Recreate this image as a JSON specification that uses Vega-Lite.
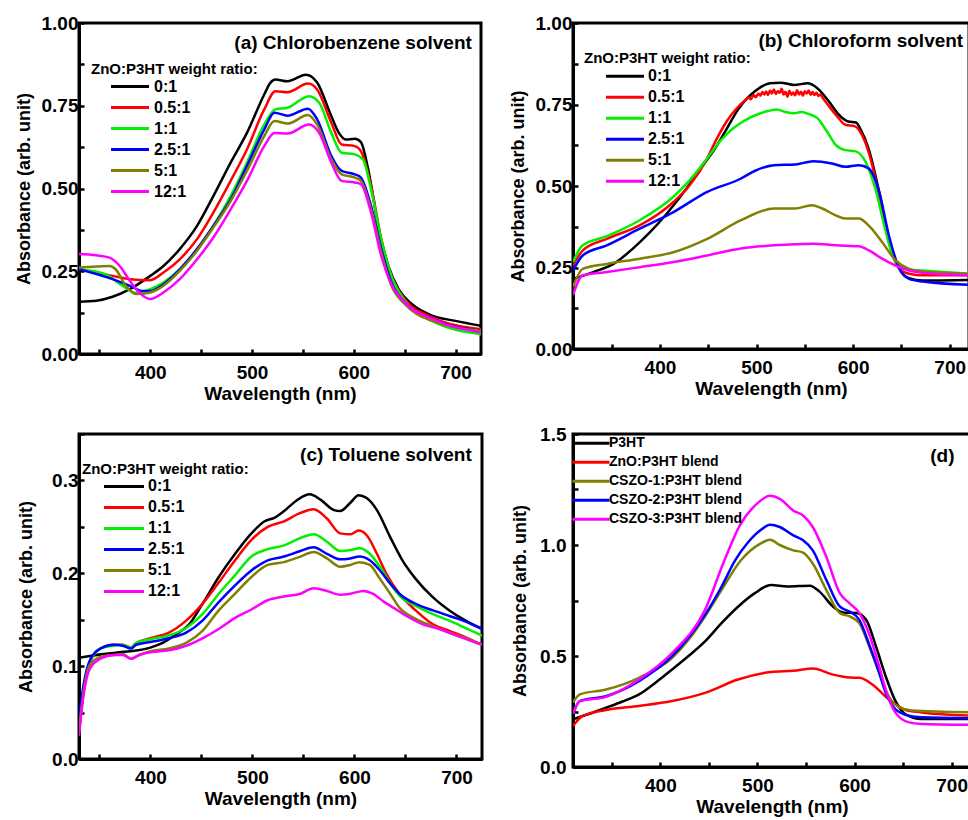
{
  "$schema": "https://vega.github.io/schema/vega-lite/v6.json",
  "padding": {"left": 13, "top": 12, "right": 0, "bottom": 0},
  "config": {
    "font": "Liberation Sans",
    "view": {"stroke": "black", "strokeWidth": 3},
    "axis": {
      "grid": false, "domainColor": "black", "domainWidth": 3,
      "tickColor": "black", "tickWidth": 2.5, "tickSize": -5,
      "labelFontSize": 19, "labelFontWeight": "bold", "labelColor": "black",
      "titleFontSize": 18, "titleFontWeight": "bold", "titleColor": "black",
      "labelOverlap": false, "labelFlush": false, "labelBound": false
    },
    "axisX": {"labelPadding": 14, "titlePadding": 2, "titleFontSize": 19},
    "axisY": {"labelPadding": 6, "titlePadding": 8},
    "legend": {
      "orient": "none", "padding": 0, "rowPadding": 0,
      "symbolType": "stroke", "symbolStrokeWidth": 3,
      "titleFontSize": 15, "titleFontWeight": "bold", "titleColor": "black",
      "labelFontSize": 16, "labelFontWeight": "bold", "labelColor": "black"
    },
    "text": {"color": "black", "fontWeight": "bold", "fontSize": 19}
  },
  "datasets": {
    "chlorobenzene": [
      {"ratio": "0:1", "nm": 330, "abs": 0.158}, {"ratio": "0:1", "nm": 347, "abs": 0.161}, {"ratio": "0:1", "nm": 363, "abs": 0.173}, {"ratio": "0:1", "nm": 380, "abs": 0.196}, {"ratio": "0:1", "nm": 400, "abs": 0.236}, {"ratio": "0:1", "nm": 413, "abs": 0.266}, {"ratio": "0:1", "nm": 429, "abs": 0.317}, {"ratio": "0:1", "nm": 446, "abs": 0.387}, {"ratio": "0:1", "nm": 462, "abs": 0.477}, {"ratio": "0:1", "nm": 479, "abs": 0.578}, {"ratio": "0:1", "nm": 495, "abs": 0.668}, {"ratio": "0:1", "nm": 512, "abs": 0.784}, {"ratio": "0:1", "nm": 518, "abs": 0.819}, {"ratio": "0:1", "nm": 523, "abs": 0.829}, {"ratio": "0:1", "nm": 535, "abs": 0.824}, {"ratio": "0:1", "nm": 553, "abs": 0.844}, {"ratio": "0:1", "nm": 564, "abs": 0.82}, {"ratio": "0:1", "nm": 578, "abs": 0.718}, {"ratio": "0:1", "nm": 586, "abs": 0.665}, {"ratio": "0:1", "nm": 592, "abs": 0.648}, {"ratio": "0:1", "nm": 601, "abs": 0.65}, {"ratio": "0:1", "nm": 607, "abs": 0.64}, {"ratio": "0:1", "nm": 614, "abs": 0.56}, {"ratio": "0:1", "nm": 624, "abs": 0.387}, {"ratio": "0:1", "nm": 634, "abs": 0.266}, {"ratio": "0:1", "nm": 644, "abs": 0.196}, {"ratio": "0:1", "nm": 657, "abs": 0.151}, {"ratio": "0:1", "nm": 677, "abs": 0.116}, {"ratio": "0:1", "nm": 700, "abs": 0.1}, {"ratio": "0:1", "nm": 725, "abs": 0.085},

      {"ratio": "0.5:1", "nm": 330, "abs": 0.256}, {"ratio": "0.5:1", "nm": 363, "abs": 0.236}, {"ratio": "0.5:1", "nm": 380, "abs": 0.226}, {"ratio": "0.5:1", "nm": 400, "abs": 0.223}, {"ratio": "0.5:1", "nm": 413, "abs": 0.246}, {"ratio": "0.5:1", "nm": 429, "abs": 0.286}, {"ratio": "0.5:1", "nm": 446, "abs": 0.347}, {"ratio": "0.5:1", "nm": 462, "abs": 0.427}, {"ratio": "0.5:1", "nm": 479, "abs": 0.523}, {"ratio": "0.5:1", "nm": 495, "abs": 0.618}, {"ratio": "0.5:1", "nm": 512, "abs": 0.739}, {"ratio": "0.5:1", "nm": 523, "abs": 0.794}, {"ratio": "0.5:1", "nm": 535, "abs": 0.791}, {"ratio": "0.5:1", "nm": 555, "abs": 0.817}, {"ratio": "0.5:1", "nm": 564, "abs": 0.799}, {"ratio": "0.5:1", "nm": 578, "abs": 0.698}, {"ratio": "0.5:1", "nm": 588, "abs": 0.633}, {"ratio": "0.5:1", "nm": 601, "abs": 0.628}, {"ratio": "0.5:1", "nm": 607, "abs": 0.613}, {"ratio": "0.5:1", "nm": 617, "abs": 0.508}, {"ratio": "0.5:1", "nm": 627, "abs": 0.347}, {"ratio": "0.5:1", "nm": 637, "abs": 0.236}, {"ratio": "0.5:1", "nm": 650, "abs": 0.166}, {"ratio": "0.5:1", "nm": 677, "abs": 0.111}, {"ratio": "0.5:1", "nm": 725, "abs": 0.075},

      {"ratio": "1:1", "nm": 330, "abs": 0.256}, {"ratio": "1:1", "nm": 356, "abs": 0.241}, {"ratio": "1:1", "nm": 373, "abs": 0.206}, {"ratio": "1:1", "nm": 386, "abs": 0.184}, {"ratio": "1:1", "nm": 400, "abs": 0.196}, {"ratio": "1:1", "nm": 413, "abs": 0.216}, {"ratio": "1:1", "nm": 429, "abs": 0.256}, {"ratio": "1:1", "nm": 446, "abs": 0.317}, {"ratio": "1:1", "nm": 462, "abs": 0.387}, {"ratio": "1:1", "nm": 479, "abs": 0.477}, {"ratio": "1:1", "nm": 495, "abs": 0.578}, {"ratio": "1:1", "nm": 512, "abs": 0.693}, {"ratio": "1:1", "nm": 523, "abs": 0.739}, {"ratio": "1:1", "nm": 535, "abs": 0.744}, {"ratio": "1:1", "nm": 556, "abs": 0.779}, {"ratio": "1:1", "nm": 566, "abs": 0.759}, {"ratio": "1:1", "nm": 578, "abs": 0.668}, {"ratio": "1:1", "nm": 588, "abs": 0.608}, {"ratio": "1:1", "nm": 601, "abs": 0.603}, {"ratio": "1:1", "nm": 609, "abs": 0.588}, {"ratio": "1:1", "nm": 617, "abs": 0.497}, {"ratio": "1:1", "nm": 627, "abs": 0.347}, {"ratio": "1:1", "nm": 637, "abs": 0.236}, {"ratio": "1:1", "nm": 650, "abs": 0.161}, {"ratio": "1:1", "nm": 677, "abs": 0.1}, {"ratio": "1:1", "nm": 725, "abs": 0.06},

      {"ratio": "2.5:1", "nm": 330, "abs": 0.256}, {"ratio": "2.5:1", "nm": 363, "abs": 0.226}, {"ratio": "2.5:1", "nm": 380, "abs": 0.206}, {"ratio": "2.5:1", "nm": 393, "abs": 0.19}, {"ratio": "2.5:1", "nm": 400, "abs": 0.19}, {"ratio": "2.5:1", "nm": 413, "abs": 0.211}, {"ratio": "2.5:1", "nm": 429, "abs": 0.256}, {"ratio": "2.5:1", "nm": 446, "abs": 0.317}, {"ratio": "2.5:1", "nm": 462, "abs": 0.387}, {"ratio": "2.5:1", "nm": 479, "abs": 0.467}, {"ratio": "2.5:1", "nm": 495, "abs": 0.568}, {"ratio": "2.5:1", "nm": 512, "abs": 0.678}, {"ratio": "2.5:1", "nm": 522, "abs": 0.729}, {"ratio": "2.5:1", "nm": 535, "abs": 0.72}, {"ratio": "2.5:1", "nm": 555, "abs": 0.741}, {"ratio": "2.5:1", "nm": 564, "abs": 0.709}, {"ratio": "2.5:1", "nm": 578, "abs": 0.598}, {"ratio": "2.5:1", "nm": 588, "abs": 0.553}, {"ratio": "2.5:1", "nm": 601, "abs": 0.543}, {"ratio": "2.5:1", "nm": 607, "abs": 0.533}, {"ratio": "2.5:1", "nm": 617, "abs": 0.447}, {"ratio": "2.5:1", "nm": 627, "abs": 0.317}, {"ratio": "2.5:1", "nm": 637, "abs": 0.216}, {"ratio": "2.5:1", "nm": 650, "abs": 0.156}, {"ratio": "2.5:1", "nm": 677, "abs": 0.106}, {"ratio": "2.5:1", "nm": 725, "abs": 0.07},

      {"ratio": "5:1", "nm": 330, "abs": 0.261}, {"ratio": "5:1", "nm": 360, "abs": 0.266}, {"ratio": "5:1", "nm": 366, "abs": 0.256}, {"ratio": "5:1", "nm": 376, "abs": 0.206}, {"ratio": "5:1", "nm": 386, "abs": 0.181}, {"ratio": "5:1", "nm": 400, "abs": 0.186}, {"ratio": "5:1", "nm": 413, "abs": 0.206}, {"ratio": "5:1", "nm": 429, "abs": 0.251}, {"ratio": "5:1", "nm": 446, "abs": 0.312}, {"ratio": "5:1", "nm": 462, "abs": 0.382}, {"ratio": "5:1", "nm": 479, "abs": 0.462}, {"ratio": "5:1", "nm": 495, "abs": 0.553}, {"ratio": "5:1", "nm": 512, "abs": 0.658}, {"ratio": "5:1", "nm": 522, "abs": 0.704}, {"ratio": "5:1", "nm": 535, "abs": 0.696}, {"ratio": "5:1", "nm": 555, "abs": 0.722}, {"ratio": "5:1", "nm": 564, "abs": 0.693}, {"ratio": "5:1", "nm": 578, "abs": 0.588}, {"ratio": "5:1", "nm": 588, "abs": 0.543}, {"ratio": "5:1", "nm": 601, "abs": 0.533}, {"ratio": "5:1", "nm": 607, "abs": 0.523}, {"ratio": "5:1", "nm": 617, "abs": 0.437}, {"ratio": "5:1", "nm": 627, "abs": 0.307}, {"ratio": "5:1", "nm": 637, "abs": 0.206}, {"ratio": "5:1", "nm": 650, "abs": 0.151}, {"ratio": "5:1", "nm": 677, "abs": 0.1}, {"ratio": "5:1", "nm": 725, "abs": 0.07},

      {"ratio": "12:1", "nm": 330, "abs": 0.302}, {"ratio": "12:1", "nm": 347, "abs": 0.298}, {"ratio": "12:1", "nm": 360, "abs": 0.291}, {"ratio": "12:1", "nm": 370, "abs": 0.266}, {"ratio": "12:1", "nm": 380, "abs": 0.221}, {"ratio": "12:1", "nm": 389, "abs": 0.186}, {"ratio": "12:1", "nm": 400, "abs": 0.166}, {"ratio": "12:1", "nm": 413, "abs": 0.186}, {"ratio": "12:1", "nm": 429, "abs": 0.226}, {"ratio": "12:1", "nm": 446, "abs": 0.286}, {"ratio": "12:1", "nm": 462, "abs": 0.352}, {"ratio": "12:1", "nm": 479, "abs": 0.437}, {"ratio": "12:1", "nm": 495, "abs": 0.523}, {"ratio": "12:1", "nm": 512, "abs": 0.628}, {"ratio": "12:1", "nm": 522, "abs": 0.668}, {"ratio": "12:1", "nm": 535, "abs": 0.666}, {"ratio": "12:1", "nm": 556, "abs": 0.693}, {"ratio": "12:1", "nm": 566, "abs": 0.668}, {"ratio": "12:1", "nm": 578, "abs": 0.578}, {"ratio": "12:1", "nm": 588, "abs": 0.523}, {"ratio": "12:1", "nm": 601, "abs": 0.518}, {"ratio": "12:1", "nm": 607, "abs": 0.513}, {"ratio": "12:1", "nm": 617, "abs": 0.427}, {"ratio": "12:1", "nm": 627, "abs": 0.296}, {"ratio": "12:1", "nm": 637, "abs": 0.211}, {"ratio": "12:1", "nm": 650, "abs": 0.156}, {"ratio": "12:1", "nm": 677, "abs": 0.106}, {"ratio": "12:1", "nm": 725, "abs": 0.065}
    ],
    "chloroform": [
      {"ratio": "0:1", "nm": 310, "abs": 0.215}, {"ratio": "0:1", "nm": 331, "abs": 0.236}, {"ratio": "0:1", "nm": 352, "abs": 0.261}, {"ratio": "0:1", "nm": 372, "abs": 0.308}, {"ratio": "0:1", "nm": 390, "abs": 0.359}, {"ratio": "0:1", "nm": 407, "abs": 0.415}, {"ratio": "0:1", "nm": 425, "abs": 0.482}, {"ratio": "0:1", "nm": 442, "abs": 0.554}, {"ratio": "0:1", "nm": 456, "abs": 0.61}, {"ratio": "0:1", "nm": 470, "abs": 0.68}, {"ratio": "0:1", "nm": 481, "abs": 0.735}, {"ratio": "0:1", "nm": 498, "abs": 0.79}, {"ratio": "0:1", "nm": 514, "abs": 0.815}, {"ratio": "0:1", "nm": 525, "abs": 0.817}, {"ratio": "0:1", "nm": 539, "abs": 0.81}, {"ratio": "0:1", "nm": 553, "abs": 0.815}, {"ratio": "0:1", "nm": 563, "abs": 0.8}, {"ratio": "0:1", "nm": 575, "abs": 0.759}, {"ratio": "0:1", "nm": 584, "abs": 0.723}, {"ratio": "0:1", "nm": 595, "abs": 0.698}, {"ratio": "0:1", "nm": 603, "abs": 0.695}, {"ratio": "0:1", "nm": 608, "abs": 0.672}, {"ratio": "0:1", "nm": 616, "abs": 0.615}, {"ratio": "0:1", "nm": 627, "abs": 0.482}, {"ratio": "0:1", "nm": 637, "abs": 0.338}, {"ratio": "0:1", "nm": 648, "abs": 0.246}, {"ratio": "0:1", "nm": 658, "abs": 0.217}, {"ratio": "0:1", "nm": 672, "abs": 0.21}, {"ratio": "0:1", "nm": 720, "abs": 0.212},

      {"ratio": "0.5:1", "nm": 310, "abs": 0.256}, {"ratio": "0.5:1", "nm": 320, "abs": 0.302}, {"ratio": "0.5:1", "nm": 345, "abs": 0.338}, {"ratio": "0.5:1", "nm": 379, "abs": 0.379}, {"ratio": "0.5:1", "nm": 414, "abs": 0.451}, {"ratio": "0.5:1", "nm": 431, "abs": 0.503}, {"ratio": "0.5:1", "nm": 449, "abs": 0.585}, {"ratio": "0.5:1", "nm": 458, "abs": 0.64}, {"ratio": "0.5:1", "nm": 469, "abs": 0.698}, {"ratio": "0.5:1", "nm": 480, "abs": 0.74}, {"ratio": "0.5:1", "nm": 488, "abs": 0.762}, {"ratio": "0.5:1", "nm": 492, "abs": 0.771}, {"ratio": "0.5:1", "nm": 494, "abs": 0.766}, {"ratio": "0.5:1", "nm": 497, "abs": 0.779}, {"ratio": "0.5:1", "nm": 499, "abs": 0.772}, {"ratio": "0.5:1", "nm": 502, "abs": 0.784}, {"ratio": "0.5:1", "nm": 504, "abs": 0.777}, {"ratio": "0.5:1", "nm": 506, "abs": 0.788}, {"ratio": "0.5:1", "nm": 508, "abs": 0.781}, {"ratio": "0.5:1", "nm": 510, "abs": 0.79}, {"ratio": "0.5:1", "nm": 512, "abs": 0.779}, {"ratio": "0.5:1", "nm": 514, "abs": 0.793}, {"ratio": "0.5:1", "nm": 516, "abs": 0.784}, {"ratio": "0.5:1", "nm": 518, "abs": 0.796}, {"ratio": "0.5:1", "nm": 520, "abs": 0.782}, {"ratio": "0.5:1", "nm": 522, "abs": 0.791}, {"ratio": "0.5:1", "nm": 524, "abs": 0.786}, {"ratio": "0.5:1", "nm": 526, "abs": 0.798}, {"ratio": "0.5:1", "nm": 528, "abs": 0.781}, {"ratio": "0.5:1", "nm": 530, "abs": 0.789}, {"ratio": "0.5:1", "nm": 532, "abs": 0.774}, {"ratio": "0.5:1", "nm": 534, "abs": 0.792}, {"ratio": "0.5:1", "nm": 536, "abs": 0.78}, {"ratio": "0.5:1", "nm": 538, "abs": 0.787}, {"ratio": "0.5:1", "nm": 540, "abs": 0.778}, {"ratio": "0.5:1", "nm": 542, "abs": 0.794}, {"ratio": "0.5:1", "nm": 544, "abs": 0.781}, {"ratio": "0.5:1", "nm": 546, "abs": 0.789}, {"ratio": "0.5:1", "nm": 548, "abs": 0.777}, {"ratio": "0.5:1", "nm": 550, "abs": 0.791}, {"ratio": "0.5:1", "nm": 552, "abs": 0.784}, {"ratio": "0.5:1", "nm": 554, "abs": 0.793}, {"ratio": "0.5:1", "nm": 556, "abs": 0.78}, {"ratio": "0.5:1", "nm": 558, "abs": 0.788}, {"ratio": "0.5:1", "nm": 560, "abs": 0.779}, {"ratio": "0.5:1", "nm": 562, "abs": 0.786}, {"ratio": "0.5:1", "nm": 564, "abs": 0.776}, {"ratio": "0.5:1", "nm": 566, "abs": 0.781}, {"ratio": "0.5:1", "nm": 569, "abs": 0.768}, {"ratio": "0.5:1", "nm": 575, "abs": 0.745}, {"ratio": "0.5:1", "nm": 584, "abs": 0.712}, {"ratio": "0.5:1", "nm": 592, "abs": 0.688}, {"ratio": "0.5:1", "nm": 602, "abs": 0.683}, {"ratio": "0.5:1", "nm": 607, "abs": 0.668}, {"ratio": "0.5:1", "nm": 616, "abs": 0.605}, {"ratio": "0.5:1", "nm": 627, "abs": 0.472}, {"ratio": "0.5:1", "nm": 637, "abs": 0.328}, {"ratio": "0.5:1", "nm": 648, "abs": 0.246}, {"ratio": "0.5:1", "nm": 658, "abs": 0.231}, {"ratio": "0.5:1", "nm": 672, "abs": 0.226}, {"ratio": "0.5:1", "nm": 720, "abs": 0.226},

      {"ratio": "1:1", "nm": 310, "abs": 0.267}, {"ratio": "1:1", "nm": 320, "abs": 0.318}, {"ratio": "1:1", "nm": 345, "abs": 0.346}, {"ratio": "1:1", "nm": 379, "abs": 0.395}, {"ratio": "1:1", "nm": 414, "abs": 0.467}, {"ratio": "1:1", "nm": 431, "abs": 0.518}, {"ratio": "1:1", "nm": 449, "abs": 0.585}, {"ratio": "1:1", "nm": 463, "abs": 0.64}, {"ratio": "1:1", "nm": 475, "abs": 0.675}, {"ratio": "1:1", "nm": 486, "abs": 0.698}, {"ratio": "1:1", "nm": 504, "abs": 0.723}, {"ratio": "1:1", "nm": 512, "abs": 0.73}, {"ratio": "1:1", "nm": 521, "abs": 0.735}, {"ratio": "1:1", "nm": 530, "abs": 0.727}, {"ratio": "1:1", "nm": 539, "abs": 0.723}, {"ratio": "1:1", "nm": 546, "abs": 0.727}, {"ratio": "1:1", "nm": 553, "abs": 0.722}, {"ratio": "1:1", "nm": 563, "abs": 0.708}, {"ratio": "1:1", "nm": 573, "abs": 0.667}, {"ratio": "1:1", "nm": 582, "abs": 0.626}, {"ratio": "1:1", "nm": 592, "abs": 0.61}, {"ratio": "1:1", "nm": 602, "abs": 0.607}, {"ratio": "1:1", "nm": 613, "abs": 0.574}, {"ratio": "1:1", "nm": 623, "abs": 0.492}, {"ratio": "1:1", "nm": 634, "abs": 0.359}, {"ratio": "1:1", "nm": 644, "abs": 0.267}, {"ratio": "1:1", "nm": 658, "abs": 0.244}, {"ratio": "1:1", "nm": 672, "abs": 0.241}, {"ratio": "1:1", "nm": 720, "abs": 0.231},

      {"ratio": "2.5:1", "nm": 310, "abs": 0.24}, {"ratio": "2.5:1", "nm": 320, "abs": 0.287}, {"ratio": "2.5:1", "nm": 345, "abs": 0.318}, {"ratio": "2.5:1", "nm": 379, "abs": 0.369}, {"ratio": "2.5:1", "nm": 414, "abs": 0.42}, {"ratio": "2.5:1", "nm": 449, "abs": 0.482}, {"ratio": "2.5:1", "nm": 484, "abs": 0.523}, {"ratio": "2.5:1", "nm": 498, "abs": 0.546}, {"ratio": "2.5:1", "nm": 518, "abs": 0.564}, {"ratio": "2.5:1", "nm": 540, "abs": 0.566}, {"ratio": "2.5:1", "nm": 559, "abs": 0.576}, {"ratio": "2.5:1", "nm": 578, "abs": 0.569}, {"ratio": "2.5:1", "nm": 592, "abs": 0.559}, {"ratio": "2.5:1", "nm": 606, "abs": 0.564}, {"ratio": "2.5:1", "nm": 616, "abs": 0.554}, {"ratio": "2.5:1", "nm": 627, "abs": 0.482}, {"ratio": "2.5:1", "nm": 637, "abs": 0.349}, {"ratio": "2.5:1", "nm": 648, "abs": 0.246}, {"ratio": "2.5:1", "nm": 658, "abs": 0.215}, {"ratio": "2.5:1", "nm": 672, "abs": 0.207}, {"ratio": "2.5:1", "nm": 720, "abs": 0.197},

      {"ratio": "5:1", "nm": 310, "abs": 0.19}, {"ratio": "5:1", "nm": 320, "abs": 0.246}, {"ratio": "5:1", "nm": 345, "abs": 0.261}, {"ratio": "5:1", "nm": 379, "abs": 0.277}, {"ratio": "5:1", "nm": 414, "abs": 0.297}, {"ratio": "5:1", "nm": 449, "abs": 0.338}, {"ratio": "5:1", "nm": 484, "abs": 0.395}, {"ratio": "5:1", "nm": 518, "abs": 0.431}, {"ratio": "5:1", "nm": 540, "abs": 0.431}, {"ratio": "5:1", "nm": 557, "abs": 0.441}, {"ratio": "5:1", "nm": 568, "abs": 0.431}, {"ratio": "5:1", "nm": 582, "abs": 0.41}, {"ratio": "5:1", "nm": 592, "abs": 0.4}, {"ratio": "5:1", "nm": 606, "abs": 0.4}, {"ratio": "5:1", "nm": 616, "abs": 0.379}, {"ratio": "5:1", "nm": 630, "abs": 0.328}, {"ratio": "5:1", "nm": 644, "abs": 0.272}, {"ratio": "5:1", "nm": 658, "abs": 0.246}, {"ratio": "5:1", "nm": 672, "abs": 0.238}, {"ratio": "5:1", "nm": 720, "abs": 0.231},

      {"ratio": "12:1", "nm": 310, "abs": 0.165}, {"ratio": "12:1", "nm": 320, "abs": 0.226}, {"ratio": "12:1", "nm": 345, "abs": 0.236}, {"ratio": "12:1", "nm": 379, "abs": 0.251}, {"ratio": "12:1", "nm": 414, "abs": 0.267}, {"ratio": "12:1", "nm": 449, "abs": 0.287}, {"ratio": "12:1", "nm": 484, "abs": 0.308}, {"ratio": "12:1", "nm": 518, "abs": 0.318}, {"ratio": "12:1", "nm": 559, "abs": 0.323}, {"ratio": "12:1", "nm": 582, "abs": 0.318}, {"ratio": "12:1", "nm": 606, "abs": 0.315}, {"ratio": "12:1", "nm": 616, "abs": 0.303}, {"ratio": "12:1", "nm": 630, "abs": 0.277}, {"ratio": "12:1", "nm": 644, "abs": 0.256}, {"ratio": "12:1", "nm": 658, "abs": 0.241}, {"ratio": "12:1", "nm": 672, "abs": 0.234}, {"ratio": "12:1", "nm": 720, "abs": 0.226}
    ],
    "toluene": [
      {"ratio": "0:1", "nm": 330, "abs": 0.109}, {"ratio": "0:1", "nm": 354, "abs": 0.113}, {"ratio": "0:1", "nm": 370, "abs": 0.115}, {"ratio": "0:1", "nm": 380, "abs": 0.116}, {"ratio": "0:1", "nm": 400, "abs": 0.12}, {"ratio": "0:1", "nm": 412, "abs": 0.125}, {"ratio": "0:1", "nm": 425, "abs": 0.134}, {"ratio": "0:1", "nm": 438, "abs": 0.145}, {"ratio": "0:1", "nm": 451, "abs": 0.167}, {"ratio": "0:1", "nm": 467, "abs": 0.196}, {"ratio": "0:1", "nm": 483, "abs": 0.221}, {"ratio": "0:1", "nm": 499, "abs": 0.243}, {"ratio": "0:1", "nm": 512, "abs": 0.256}, {"ratio": "0:1", "nm": 522, "abs": 0.26}, {"ratio": "0:1", "nm": 531, "abs": 0.267}, {"ratio": "0:1", "nm": 544, "abs": 0.279}, {"ratio": "0:1", "nm": 556, "abs": 0.285}, {"ratio": "0:1", "nm": 567, "abs": 0.279}, {"ratio": "0:1", "nm": 580, "abs": 0.268}, {"ratio": "0:1", "nm": 586, "abs": 0.267}, {"ratio": "0:1", "nm": 596, "abs": 0.276}, {"ratio": "0:1", "nm": 604, "abs": 0.284}, {"ratio": "0:1", "nm": 612, "abs": 0.281}, {"ratio": "0:1", "nm": 622, "abs": 0.268}, {"ratio": "0:1", "nm": 635, "abs": 0.239}, {"ratio": "0:1", "nm": 647, "abs": 0.214}, {"ratio": "0:1", "nm": 660, "abs": 0.194}, {"ratio": "0:1", "nm": 677, "abs": 0.174}, {"ratio": "0:1", "nm": 693, "abs": 0.16}, {"ratio": "0:1", "nm": 709, "abs": 0.149}, {"ratio": "0:1", "nm": 725, "abs": 0.14},

      {"ratio": "0.5:1", "nm": 330, "abs": 0.029}, {"ratio": "0.5:1", "nm": 334.5, "abs": 0.073}, {"ratio": "0.5:1", "nm": 341, "abs": 0.105}, {"ratio": "0.5:1", "nm": 351, "abs": 0.119}, {"ratio": "0.5:1", "nm": 364, "abs": 0.123}, {"ratio": "0.5:1", "nm": 373, "abs": 0.123}, {"ratio": "0.5:1", "nm": 381, "abs": 0.12}, {"ratio": "0.5:1", "nm": 386, "abs": 0.125}, {"ratio": "0.5:1", "nm": 400, "abs": 0.13}, {"ratio": "0.5:1", "nm": 418, "abs": 0.136}, {"ratio": "0.5:1", "nm": 435, "abs": 0.149}, {"ratio": "0.5:1", "nm": 451, "abs": 0.167}, {"ratio": "0.5:1", "nm": 467, "abs": 0.19}, {"ratio": "0.5:1", "nm": 483, "abs": 0.214}, {"ratio": "0.5:1", "nm": 499, "abs": 0.236}, {"ratio": "0.5:1", "nm": 515, "abs": 0.25}, {"ratio": "0.5:1", "nm": 531, "abs": 0.256}, {"ratio": "0.5:1", "nm": 547, "abs": 0.265}, {"ratio": "0.5:1", "nm": 560, "abs": 0.269}, {"ratio": "0.5:1", "nm": 573, "abs": 0.259}, {"ratio": "0.5:1", "nm": 586, "abs": 0.243}, {"ratio": "0.5:1", "nm": 596, "abs": 0.242}, {"ratio": "0.5:1", "nm": 604, "abs": 0.246}, {"ratio": "0.5:1", "nm": 612, "abs": 0.241}, {"ratio": "0.5:1", "nm": 622, "abs": 0.221}, {"ratio": "0.5:1", "nm": 631, "abs": 0.2}, {"ratio": "0.5:1", "nm": 644, "abs": 0.178}, {"ratio": "0.5:1", "nm": 660, "abs": 0.16}, {"ratio": "0.5:1", "nm": 677, "abs": 0.145}, {"ratio": "0.5:1", "nm": 693, "abs": 0.138}, {"ratio": "0.5:1", "nm": 709, "abs": 0.131}, {"ratio": "0.5:1", "nm": 725, "abs": 0.123},

      {"ratio": "1:1", "nm": 330, "abs": 0.03}, {"ratio": "1:1", "nm": 334.5, "abs": 0.075}, {"ratio": "1:1", "nm": 341, "abs": 0.105}, {"ratio": "1:1", "nm": 351, "abs": 0.119}, {"ratio": "1:1", "nm": 364, "abs": 0.122}, {"ratio": "1:1", "nm": 373, "abs": 0.123}, {"ratio": "1:1", "nm": 381, "abs": 0.12}, {"ratio": "1:1", "nm": 386, "abs": 0.125}, {"ratio": "1:1", "nm": 400, "abs": 0.129}, {"ratio": "1:1", "nm": 418, "abs": 0.133}, {"ratio": "1:1", "nm": 435, "abs": 0.141}, {"ratio": "1:1", "nm": 451, "abs": 0.156}, {"ratio": "1:1", "nm": 467, "abs": 0.178}, {"ratio": "1:1", "nm": 483, "abs": 0.198}, {"ratio": "1:1", "nm": 499, "abs": 0.218}, {"ratio": "1:1", "nm": 515, "abs": 0.226}, {"ratio": "1:1", "nm": 531, "abs": 0.23}, {"ratio": "1:1", "nm": 547, "abs": 0.238}, {"ratio": "1:1", "nm": 560, "abs": 0.242}, {"ratio": "1:1", "nm": 573, "abs": 0.234}, {"ratio": "1:1", "nm": 586, "abs": 0.224}, {"ratio": "1:1", "nm": 596, "abs": 0.225}, {"ratio": "1:1", "nm": 605, "abs": 0.227}, {"ratio": "1:1", "nm": 615, "abs": 0.221}, {"ratio": "1:1", "nm": 625, "abs": 0.207}, {"ratio": "1:1", "nm": 635, "abs": 0.189}, {"ratio": "1:1", "nm": 644, "abs": 0.176}, {"ratio": "1:1", "nm": 660, "abs": 0.165}, {"ratio": "1:1", "nm": 677, "abs": 0.156}, {"ratio": "1:1", "nm": 693, "abs": 0.149}, {"ratio": "1:1", "nm": 709, "abs": 0.141}, {"ratio": "1:1", "nm": 725, "abs": 0.133},

      {"ratio": "2.5:1", "nm": 330, "abs": 0.044}, {"ratio": "2.5:1", "nm": 334.5, "abs": 0.08}, {"ratio": "2.5:1", "nm": 341, "abs": 0.107}, {"ratio": "2.5:1", "nm": 351, "abs": 0.119}, {"ratio": "2.5:1", "nm": 364, "abs": 0.123}, {"ratio": "2.5:1", "nm": 373, "abs": 0.122}, {"ratio": "2.5:1", "nm": 381, "abs": 0.119}, {"ratio": "2.5:1", "nm": 386, "abs": 0.123}, {"ratio": "2.5:1", "nm": 400, "abs": 0.126}, {"ratio": "2.5:1", "nm": 418, "abs": 0.13}, {"ratio": "2.5:1", "nm": 435, "abs": 0.136}, {"ratio": "2.5:1", "nm": 451, "abs": 0.149}, {"ratio": "2.5:1", "nm": 467, "abs": 0.169}, {"ratio": "2.5:1", "nm": 483, "abs": 0.187}, {"ratio": "2.5:1", "nm": 499, "abs": 0.203}, {"ratio": "2.5:1", "nm": 515, "abs": 0.214}, {"ratio": "2.5:1", "nm": 531, "abs": 0.218}, {"ratio": "2.5:1", "nm": 547, "abs": 0.224}, {"ratio": "2.5:1", "nm": 560, "abs": 0.228}, {"ratio": "2.5:1", "nm": 573, "abs": 0.221}, {"ratio": "2.5:1", "nm": 586, "abs": 0.215}, {"ratio": "2.5:1", "nm": 596, "abs": 0.216}, {"ratio": "2.5:1", "nm": 605, "abs": 0.218}, {"ratio": "2.5:1", "nm": 615, "abs": 0.214}, {"ratio": "2.5:1", "nm": 625, "abs": 0.203}, {"ratio": "2.5:1", "nm": 635, "abs": 0.189}, {"ratio": "2.5:1", "nm": 644, "abs": 0.178}, {"ratio": "2.5:1", "nm": 660, "abs": 0.167}, {"ratio": "2.5:1", "nm": 677, "abs": 0.16}, {"ratio": "2.5:1", "nm": 693, "abs": 0.154}, {"ratio": "2.5:1", "nm": 709, "abs": 0.148}, {"ratio": "2.5:1", "nm": 725, "abs": 0.14},

      {"ratio": "5:1", "nm": 330, "abs": 0.029}, {"ratio": "5:1", "nm": 334.5, "abs": 0.073}, {"ratio": "5:1", "nm": 341, "abs": 0.102}, {"ratio": "5:1", "nm": 351, "abs": 0.11}, {"ratio": "5:1", "nm": 364, "abs": 0.112}, {"ratio": "5:1", "nm": 373, "abs": 0.113}, {"ratio": "5:1", "nm": 381, "abs": 0.108}, {"ratio": "5:1", "nm": 389, "abs": 0.112}, {"ratio": "5:1", "nm": 400, "abs": 0.116}, {"ratio": "5:1", "nm": 418, "abs": 0.119}, {"ratio": "5:1", "nm": 435, "abs": 0.125}, {"ratio": "5:1", "nm": 451, "abs": 0.138}, {"ratio": "5:1", "nm": 467, "abs": 0.16}, {"ratio": "5:1", "nm": 483, "abs": 0.178}, {"ratio": "5:1", "nm": 499, "abs": 0.196}, {"ratio": "5:1", "nm": 515, "abs": 0.209}, {"ratio": "5:1", "nm": 531, "abs": 0.212}, {"ratio": "5:1", "nm": 547, "abs": 0.218}, {"ratio": "5:1", "nm": 560, "abs": 0.223}, {"ratio": "5:1", "nm": 573, "abs": 0.216}, {"ratio": "5:1", "nm": 586, "abs": 0.207}, {"ratio": "5:1", "nm": 596, "abs": 0.209}, {"ratio": "5:1", "nm": 605, "abs": 0.212}, {"ratio": "5:1", "nm": 615, "abs": 0.209}, {"ratio": "5:1", "nm": 625, "abs": 0.194}, {"ratio": "5:1", "nm": 635, "abs": 0.178}, {"ratio": "5:1", "nm": 644, "abs": 0.163}, {"ratio": "5:1", "nm": 660, "abs": 0.151}, {"ratio": "5:1", "nm": 677, "abs": 0.143}, {"ratio": "5:1", "nm": 693, "abs": 0.136}, {"ratio": "5:1", "nm": 709, "abs": 0.13}, {"ratio": "5:1", "nm": 725, "abs": 0.123},

      {"ratio": "12:1", "nm": 330, "abs": 0.025}, {"ratio": "12:1", "nm": 334.5, "abs": 0.069}, {"ratio": "12:1", "nm": 341, "abs": 0.098}, {"ratio": "12:1", "nm": 351, "abs": 0.108}, {"ratio": "12:1", "nm": 364, "abs": 0.112}, {"ratio": "12:1", "nm": 373, "abs": 0.112}, {"ratio": "12:1", "nm": 381, "abs": 0.108}, {"ratio": "12:1", "nm": 389, "abs": 0.112}, {"ratio": "12:1", "nm": 400, "abs": 0.115}, {"ratio": "12:1", "nm": 418, "abs": 0.117}, {"ratio": "12:1", "nm": 435, "abs": 0.122}, {"ratio": "12:1", "nm": 451, "abs": 0.13}, {"ratio": "12:1", "nm": 467, "abs": 0.14}, {"ratio": "12:1", "nm": 483, "abs": 0.152}, {"ratio": "12:1", "nm": 499, "abs": 0.161}, {"ratio": "12:1", "nm": 515, "abs": 0.171}, {"ratio": "12:1", "nm": 531, "abs": 0.175}, {"ratio": "12:1", "nm": 547, "abs": 0.178}, {"ratio": "12:1", "nm": 560, "abs": 0.184}, {"ratio": "12:1", "nm": 573, "abs": 0.181}, {"ratio": "12:1", "nm": 586, "abs": 0.177}, {"ratio": "12:1", "nm": 596, "abs": 0.178}, {"ratio": "12:1", "nm": 609, "abs": 0.181}, {"ratio": "12:1", "nm": 618, "abs": 0.178}, {"ratio": "12:1", "nm": 628, "abs": 0.17}, {"ratio": "12:1", "nm": 638, "abs": 0.163}, {"ratio": "12:1", "nm": 651, "abs": 0.154}, {"ratio": "12:1", "nm": 667, "abs": 0.145}, {"ratio": "12:1", "nm": 683, "abs": 0.14}, {"ratio": "12:1", "nm": 702, "abs": 0.132}, {"ratio": "12:1", "nm": 725, "abs": 0.123}
    ],
    "blends": [
      {"sample": "P3HT", "nm": 310, "abs": 0.215}, {"sample": "P3HT", "nm": 327, "abs": 0.24}, {"sample": "P3HT", "nm": 344, "abs": 0.267}, {"sample": "P3HT", "nm": 361, "abs": 0.295}, {"sample": "P3HT", "nm": 378, "abs": 0.327}, {"sample": "P3HT", "nm": 395, "abs": 0.38}, {"sample": "P3HT", "nm": 412, "abs": 0.439}, {"sample": "P3HT", "nm": 429, "abs": 0.5}, {"sample": "P3HT", "nm": 446, "abs": 0.566}, {"sample": "P3HT", "nm": 463, "abs": 0.648}, {"sample": "P3HT", "nm": 480, "abs": 0.722}, {"sample": "P3HT", "nm": 497, "abs": 0.782}, {"sample": "P3HT", "nm": 514, "abs": 0.82}, {"sample": "P3HT", "nm": 531, "abs": 0.813}, {"sample": "P3HT", "nm": 554, "abs": 0.817}, {"sample": "P3HT", "nm": 564, "abs": 0.79}, {"sample": "P3HT", "nm": 578, "abs": 0.722}, {"sample": "P3HT", "nm": 588, "abs": 0.696}, {"sample": "P3HT", "nm": 602, "abs": 0.694}, {"sample": "P3HT", "nm": 612, "abs": 0.663}, {"sample": "P3HT", "nm": 622, "abs": 0.545}, {"sample": "P3HT", "nm": 632, "abs": 0.41}, {"sample": "P3HT", "nm": 642, "abs": 0.299}, {"sample": "P3HT", "nm": 652, "abs": 0.239}, {"sample": "P3HT", "nm": 669, "abs": 0.216}, {"sample": "P3HT", "nm": 720, "abs": 0.216},

      {"sample": "ZnO:P3HT blend", "nm": 310, "abs": 0.185}, {"sample": "ZnO:P3HT blend", "nm": 320, "abs": 0.23}, {"sample": "ZnO:P3HT blend", "nm": 344, "abs": 0.257}, {"sample": "ZnO:P3HT blend", "nm": 378, "abs": 0.275}, {"sample": "ZnO:P3HT blend", "nm": 412, "abs": 0.297}, {"sample": "ZnO:P3HT blend", "nm": 446, "abs": 0.334}, {"sample": "ZnO:P3HT blend", "nm": 480, "abs": 0.394}, {"sample": "ZnO:P3HT blend", "nm": 514, "abs": 0.428}, {"sample": "ZnO:P3HT blend", "nm": 537, "abs": 0.434}, {"sample": "ZnO:P3HT blend", "nm": 557, "abs": 0.444}, {"sample": "ZnO:P3HT blend", "nm": 578, "abs": 0.416}, {"sample": "ZnO:P3HT blend", "nm": 595, "abs": 0.403}, {"sample": "ZnO:P3HT blend", "nm": 605, "abs": 0.402}, {"sample": "ZnO:P3HT blend", "nm": 618, "abs": 0.373}, {"sample": "ZnO:P3HT blend", "nm": 635, "abs": 0.306}, {"sample": "ZnO:P3HT blend", "nm": 652, "abs": 0.258}, {"sample": "ZnO:P3HT blend", "nm": 669, "abs": 0.246}, {"sample": "ZnO:P3HT blend", "nm": 720, "abs": 0.231},

      {"sample": "CSZO-1:P3HT blend", "nm": 310, "abs": 0.29}, {"sample": "CSZO-1:P3HT blend", "nm": 317, "abs": 0.327}, {"sample": "CSZO-1:P3HT blend", "nm": 344, "abs": 0.349}, {"sample": "CSZO-1:P3HT blend", "nm": 378, "abs": 0.402}, {"sample": "CSZO-1:P3HT blend", "nm": 412, "abs": 0.491}, {"sample": "CSZO-1:P3HT blend", "nm": 429, "abs": 0.573}, {"sample": "CSZO-1:P3HT blend", "nm": 446, "abs": 0.678}, {"sample": "CSZO-1:P3HT blend", "nm": 463, "abs": 0.797}, {"sample": "CSZO-1:P3HT blend", "nm": 483, "abs": 0.931}, {"sample": "CSZO-1:P3HT blend", "nm": 503, "abs": 1.006}, {"sample": "CSZO-1:P3HT blend", "nm": 513, "abs": 1.024}, {"sample": "CSZO-1:P3HT blend", "nm": 523, "abs": 1.0}, {"sample": "CSZO-1:P3HT blend", "nm": 537, "abs": 0.976}, {"sample": "CSZO-1:P3HT blend", "nm": 547, "abs": 0.966}, {"sample": "CSZO-1:P3HT blend", "nm": 557, "abs": 0.917}, {"sample": "CSZO-1:P3HT blend", "nm": 571, "abs": 0.797}, {"sample": "CSZO-1:P3HT blend", "nm": 585, "abs": 0.693}, {"sample": "CSZO-1:P3HT blend", "nm": 595, "abs": 0.678}, {"sample": "CSZO-1:P3HT blend", "nm": 605, "abs": 0.648}, {"sample": "CSZO-1:P3HT blend", "nm": 615, "abs": 0.545}, {"sample": "CSZO-1:P3HT blend", "nm": 625, "abs": 0.43}, {"sample": "CSZO-1:P3HT blend", "nm": 635, "abs": 0.321}, {"sample": "CSZO-1:P3HT blend", "nm": 646, "abs": 0.269}, {"sample": "CSZO-1:P3HT blend", "nm": 659, "abs": 0.254}, {"sample": "CSZO-1:P3HT blend", "nm": 720, "abs": 0.246},

      {"sample": "CSZO-2:P3HT blend", "nm": 310, "abs": 0.24}, {"sample": "CSZO-2:P3HT blend", "nm": 317, "abs": 0.297}, {"sample": "CSZO-2:P3HT blend", "nm": 344, "abs": 0.319}, {"sample": "CSZO-2:P3HT blend", "nm": 378, "abs": 0.387}, {"sample": "CSZO-2:P3HT blend", "nm": 412, "abs": 0.499}, {"sample": "CSZO-2:P3HT blend", "nm": 446, "abs": 0.685}, {"sample": "CSZO-2:P3HT blend", "nm": 463, "abs": 0.812}, {"sample": "CSZO-2:P3HT blend", "nm": 477, "abs": 0.931}, {"sample": "CSZO-2:P3HT blend", "nm": 490, "abs": 1.01}, {"sample": "CSZO-2:P3HT blend", "nm": 503, "abs": 1.066}, {"sample": "CSZO-2:P3HT blend", "nm": 513, "abs": 1.091}, {"sample": "CSZO-2:P3HT blend", "nm": 523, "abs": 1.081}, {"sample": "CSZO-2:P3HT blend", "nm": 537, "abs": 1.043}, {"sample": "CSZO-2:P3HT blend", "nm": 547, "abs": 1.021}, {"sample": "CSZO-2:P3HT blend", "nm": 557, "abs": 0.976}, {"sample": "CSZO-2:P3HT blend", "nm": 571, "abs": 0.842}, {"sample": "CSZO-2:P3HT blend", "nm": 585, "abs": 0.722}, {"sample": "CSZO-2:P3HT blend", "nm": 595, "abs": 0.7}, {"sample": "CSZO-2:P3HT blend", "nm": 605, "abs": 0.663}, {"sample": "CSZO-2:P3HT blend", "nm": 615, "abs": 0.553}, {"sample": "CSZO-2:P3HT blend", "nm": 625, "abs": 0.43}, {"sample": "CSZO-2:P3HT blend", "nm": 632, "abs": 0.336}, {"sample": "CSZO-2:P3HT blend", "nm": 642, "abs": 0.261}, {"sample": "CSZO-2:P3HT blend", "nm": 656, "abs": 0.231}, {"sample": "CSZO-2:P3HT blend", "nm": 669, "abs": 0.224}, {"sample": "CSZO-2:P3HT blend", "nm": 720, "abs": 0.219},

      {"sample": "CSZO-3:P3HT blend", "nm": 310, "abs": 0.24}, {"sample": "CSZO-3:P3HT blend", "nm": 317, "abs": 0.297}, {"sample": "CSZO-3:P3HT blend", "nm": 344, "abs": 0.316}, {"sample": "CSZO-3:P3HT blend", "nm": 378, "abs": 0.394}, {"sample": "CSZO-3:P3HT blend", "nm": 412, "abs": 0.513}, {"sample": "CSZO-3:P3HT blend", "nm": 446, "abs": 0.708}, {"sample": "CSZO-3:P3HT blend", "nm": 466, "abs": 0.931}, {"sample": "CSZO-3:P3HT blend", "nm": 482, "abs": 1.09}, {"sample": "CSZO-3:P3HT blend", "nm": 499, "abs": 1.184}, {"sample": "CSZO-3:P3HT blend", "nm": 513, "abs": 1.222}, {"sample": "CSZO-3:P3HT blend", "nm": 523, "abs": 1.208}, {"sample": "CSZO-3:P3HT blend", "nm": 537, "abs": 1.155}, {"sample": "CSZO-3:P3HT blend", "nm": 547, "abs": 1.133}, {"sample": "CSZO-3:P3HT blend", "nm": 557, "abs": 1.081}, {"sample": "CSZO-3:P3HT blend", "nm": 571, "abs": 0.946}, {"sample": "CSZO-3:P3HT blend", "nm": 585, "abs": 0.782}, {"sample": "CSZO-3:P3HT blend", "nm": 595, "abs": 0.737}, {"sample": "CSZO-3:P3HT blend", "nm": 605, "abs": 0.693}, {"sample": "CSZO-3:P3HT blend", "nm": 615, "abs": 0.6}, {"sample": "CSZO-3:P3HT blend", "nm": 625, "abs": 0.46}, {"sample": "CSZO-3:P3HT blend", "nm": 632, "abs": 0.351}, {"sample": "CSZO-3:P3HT blend", "nm": 642, "abs": 0.246}, {"sample": "CSZO-3:P3HT blend", "nm": 656, "abs": 0.201}, {"sample": "CSZO-3:P3HT blend", "nm": 669, "abs": 0.194}, {"sample": "CSZO-3:P3HT blend", "nm": 720, "abs": 0.19}
    ]
  },
  "columns": 2,
  "align": "each",
  "bounds": "flush",
  "spacing": {"row": 80, "column": 91},
  "resolve": {"scale": {"color": "independent", "x": "independent", "y": "independent"}, "legend": {"color": "independent"}},
  "concat": [
    {
      "width": 402, "height": 331,
      "layer": [
        {
          "data": {"name": "chlorobenzene"},
          "mark": {"type": "line", "strokeWidth": 2.5, "interpolate": "monotone", "clip": true},
          "encoding": {
            "x": {"field": "nm", "type": "quantitative", "scale": {"domain": [330, 725], "nice": false, "zero": false},
                  "axis": {"title": "Wavelength (nm)", "values": [350, 400, 450, 500, 550, 600, 650, 700], "labelExpr": "datum.value % 100 === 0 ? datum.label : ''"}},
            "y": {"field": "abs", "type": "quantitative", "scale": {"domain": [0, 1], "nice": false},
                  "axis": {"title": "Absorbance (arb. unit)", "values": [0, 0.125, 0.25, 0.375, 0.5, 0.625, 0.75, 0.875, 1], "labelExpr": "datum.value * 4 % 1 === 0 ? format(datum.value, '.2f') : ''"}},
            "color": {"field": "ratio", "type": "nominal", "sort": null,
                      "scale": {"domain": ["0:1", "0.5:1", "1:1", "2.5:1", "5:1", "12:1"], "range": ["#000000", "#ff0000", "#00f000", "#0000ff", "#808000", "#ff00ff"]},
                      "legend": {"title": "ZnO:P3HT weight ratio:", "legendX": 12, "legendY": 39, "titlePadding": -1, "symbolSize": 1444, "symbolOffset": 18.5, "labelOffset": 3.5, "clipHeight": 21}}
          }
        },
        {
          "data": {"values": [{}]},
          "mark": {"type": "text", "align": "right", "baseline": "middle"},
          "encoding": {"x": {"datum": 716}, "y": {"datum": 0.94}, "text": {"value": "(a) Chlorobenzene solvent"}}
        }
      ]
    },
    {
      "width": 396, "height": 326,
      "layer": [
        {
          "data": {"name": "chloroform"},
          "mark": {"type": "line", "strokeWidth": 2.5, "interpolate": "monotone", "clip": true},
          "encoding": {
            "x": {"field": "nm", "type": "quantitative", "scale": {"domain": [310, 720], "nice": false, "zero": false},
                  "axis": {"title": "Wavelength (nm)", "values": [350, 400, 450, 500, 550, 600, 650, 700], "labelExpr": "datum.value % 100 === 0 ? datum.label : ''"}},
            "y": {"field": "abs", "type": "quantitative", "scale": {"domain": [0, 1], "nice": false},
                  "axis": {"title": "Absorbance (arb. unit)", "values": [0, 0.125, 0.25, 0.375, 0.5, 0.625, 0.75, 0.875, 1], "labelExpr": "datum.value * 4 % 1 === 0 ? format(datum.value, '.2f') : ''"}},
            "color": {"field": "ratio", "type": "nominal", "sort": null,
                      "scale": {"domain": ["0:1", "0.5:1", "1:1", "2.5:1", "5:1", "12:1"], "range": ["#000000", "#ff0000", "#00f000", "#0000ff", "#808000", "#ff00ff"]},
                      "legend": {"title": "ZnO:P3HT weight ratio:", "legendX": 11, "legendY": 28, "titlePadding": 0, "symbolSize": 1444, "symbolOffset": 20.5, "labelOffset": 2.5, "clipHeight": 20.6}}
          }
        },
        {
          "data": {"values": [{}]},
          "mark": {"type": "text", "align": "right", "baseline": "middle"},
          "encoding": {"x": {"datum": 714}, "y": {"datum": 0.945}, "text": {"value": "(b) Chloroform solvent"}}
        }
      ]
    },
    {
      "width": 403, "height": 325,
      "layer": [
        {
          "data": {"name": "toluene"},
          "mark": {"type": "line", "strokeWidth": 2.5, "interpolate": "monotone", "clip": true},
          "encoding": {
            "x": {"field": "nm", "type": "quantitative", "scale": {"domain": [330, 725], "nice": false, "zero": false},
                  "axis": {"title": "Wavelength (nm)", "values": [350, 400, 450, 500, 550, 600, 650, 700], "labelExpr": "datum.value % 100 === 0 ? datum.label : ''"}},
            "y": {"field": "abs", "type": "quantitative", "scale": {"domain": [0, 0.35], "nice": false},
                  "axis": {"title": "Absorbance (arb. unit)", "titlePadding": 16, "values": [0, 0.05, 0.1, 0.15, 0.2, 0.25, 0.3, 0.35], "labelExpr": "abs(datum.value * 10 - round(datum.value * 10)) < 0.001 ? format(datum.value, '.1f') : ''"}},
            "color": {"field": "ratio", "type": "nominal", "sort": null,
                      "scale": {"domain": ["0:1", "0.5:1", "1:1", "2.5:1", "5:1", "12:1"], "range": ["#000000", "#ff0000", "#00f000", "#0000ff", "#808000", "#ff00ff"]},
                      "legend": {"title": "ZnO:P3HT weight ratio:", "legendX": 3, "legendY": 28, "titlePadding": -1, "symbolSize": 1600, "symbolOffset": 20.5, "labelOffset": 2.5, "clipHeight": 20.8}}
          }
        },
        {
          "data": {"values": [{}]},
          "mark": {"type": "text", "align": "right", "baseline": "middle"},
          "encoding": {"x": {"datum": 715}, "y": {"datum": 0.327}, "text": {"value": "(c) Toluene solvent"}}
        }
      ]
    },
    {
      "width": 398, "height": 333,
      "layer": [
        {
          "data": {"name": "blends"},
          "mark": {"type": "line", "strokeWidth": 2.5, "interpolate": "monotone", "clip": true},
          "encoding": {
            "x": {"field": "nm", "type": "quantitative", "scale": {"domain": [310, 720], "nice": false, "zero": false},
                  "axis": {"title": "Wavelength (nm)", "values": [350, 400, 450, 500, 550, 600, 650, 700], "labelExpr": "datum.value % 100 === 0 ? datum.label : ''"}},
            "y": {"field": "abs", "type": "quantitative", "scale": {"domain": [0, 1.5], "nice": false},
                  "axis": {"title": "Absorbance (arb. unit)", "titlePadding": 10, "labelPadding": 12, "values": [0, 0.25, 0.5, 0.75, 1, 1.25, 1.5], "labelExpr": "datum.value * 2 % 1 === 0 ? format(datum.value, '.1f') : ''"}},
            "color": {"field": "sample", "type": "nominal", "sort": null,
                      "scale": {"domain": ["P3HT", "ZnO:P3HT blend", "CSZO-1:P3HT blend", "CSZO-2:P3HT blend", "CSZO-3:P3HT blend"], "range": ["#000000", "#ff0000", "#808000", "#0000ff", "#ff00ff"]},
                      "legend": {"title": null, "legendX": -2, "legendY": 0, "symbolSize": 1369, "symbolOffset": 0, "labelOffset": -2, "labelFontSize": 14, "clipHeight": 18.5}}
          }
        },
        {
          "data": {"values": [{}]},
          "mark": {"type": "text", "align": "right", "baseline": "middle"},
          "encoding": {"x": {"datum": 703}, "y": {"datum": 1.4}, "text": {"value": "(d)"}}
        }
      ]
    }
  ]
}
